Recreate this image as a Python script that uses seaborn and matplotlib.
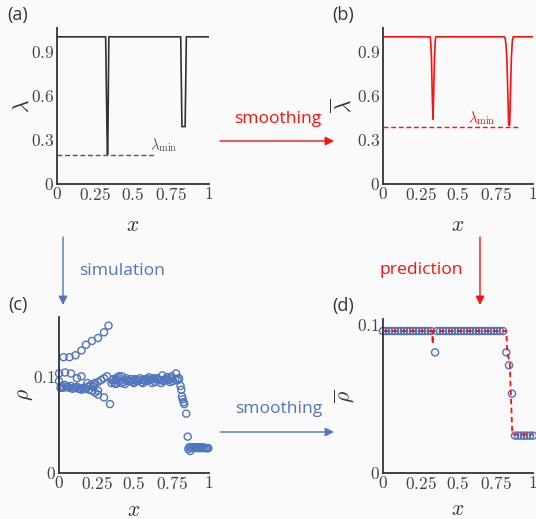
import numpy as np
import pandas as pd
import matplotlib
matplotlib.use("Agg")
import matplotlib.pyplot as plt
from matplotlib.patches import FancyArrowPatch
import seaborn as sns

sns.set_style("white")
plt.rcParams["mathtext.fontset"] = "cm"
plt.rcParams["font.family"] = ["Open Sans", "DejaVu Sans"]

# ---------------- data ----------------
# (a) raw lambda profile
lam_x = [0.0, 0.320, 0.331, 0.334, 0.341, 0.814, 0.822, 0.843, 0.851, 1.0]
lam_y = [1.0, 1.0, 0.20, 0.20, 1.0, 1.0, 0.39, 0.39, 1.0, 1.0]
lam_min_a = 0.20
lam_min_a_span = [0.0, 0.64]

# (b) smoothed lambda profile
lbar_x = [0.0, 0.314, 0.318, 0.323, 0.328, 0.333, 0.338, 0.343, 0.348, 0.352,
          0.808, 0.814, 0.820, 0.826, 0.832, 0.838, 0.844, 0.850, 0.856, 0.862, 0.868, 1.0]
lbar_y = [1.0, 1.0, 0.97, 0.86, 0.62, 0.44, 0.62, 0.86, 0.97, 1.0,
          1.0, 0.99, 0.95, 0.84, 0.62, 0.40, 0.40, 0.62, 0.86, 0.97, 1.0, 1.0]
lam_min_b = 0.385
lam_min_b_span = [0.0, 0.905]

# (c) simulated densities
c_up_x = [0.03, 0.07, 0.11, 0.15, 0.18, 0.22, 0.26, 0.30, 0.33]
c_up_y = [0.121, 0.121, 0.123, 0.128, 0.134, 0.138, 0.141, 0.147, 0.154]
c_dn_x = [0.0, 0.04, 0.08, 0.12, 0.15, 0.19, 0.23, 0.26, 0.30, 0.34]
c_dn_y = [0.104, 0.105, 0.104, 0.099, 0.101, 0.094, 0.090, 0.086, 0.079, 0.072]
c_m1_x = [0.0, 0.02, 0.04, 0.06, 0.08, 0.10, 0.12, 0.14, 0.16, 0.18, 0.20, 0.22, 0.24, 0.26]
c_m1_y = [0.096, 0.091, 0.092, 0.090, 0.091, 0.089, 0.090, 0.088, 0.089, 0.088, 0.087, 0.086, 0.084, 0.082]
c_m2_x = [0.01, 0.03, 0.05, 0.07, 0.09, 0.11, 0.13, 0.15, 0.17, 0.19, 0.21, 0.23]
c_m2_y = [0.089, 0.089, 0.090, 0.089, 0.088, 0.089, 0.088, 0.087, 0.088, 0.090, 0.092, 0.093]
c_r_x = [0.24, 0.26, 0.28, 0.30, 0.32, 0.35, 0.38, 0.40]
c_r_y = [0.094, 0.095, 0.097, 0.099, 0.101, 0.094, 0.098, 0.101]
c_c1_x = [0.36, 0.39, 0.42, 0.45, 0.48, 0.51, 0.54, 0.57, 0.60, 0.63, 0.66, 0.69, 0.72, 0.75, 0.78]
c_c1_y = [0.098, 0.100, 0.101, 0.099, 0.098, 0.097, 0.099, 0.098, 0.100, 0.099, 0.098, 0.102, 0.100, 0.101, 0.104]
c_c2_x = [0.37, 0.40, 0.43, 0.46, 0.49, 0.52, 0.55, 0.58, 0.61, 0.64, 0.67, 0.70, 0.73, 0.76, 0.79]
c_c2_y = [0.094, 0.096, 0.095, 0.096, 0.095, 0.096, 0.095, 0.096, 0.097, 0.095, 0.097, 0.096, 0.097, 0.096, 0.097]
c_c3_x = [0.355, 0.385, 0.415, 0.445, 0.475, 0.505, 0.535, 0.565, 0.595, 0.625, 0.655, 0.685, 0.715, 0.745, 0.775, 0.80]
c_c3_y = [0.097, 0.097, 0.094, 0.097, 0.096, 0.098, 0.097, 0.097, 0.098, 0.098, 0.099, 0.097, 0.098, 0.099, 0.098, 0.099]
c_c4_x = [0.38, 0.44, 0.50, 0.56, 0.62, 0.68, 0.74]
c_c4_y = [0.093, 0.093, 0.094, 0.094, 0.094, 0.094, 0.095]
c_drop_x = [0.80, 0.81, 0.815, 0.82, 0.825, 0.83, 0.835, 0.848, 0.858]
c_drop_y = [0.098, 0.091, 0.087, 0.080, 0.077, 0.074, 0.072, 0.062, 0.038]
c_tail_x = [0.862, 0.87, 0.875, 0.88, 0.89, 0.90, 0.91, 0.92, 0.93, 0.94, 0.95, 0.96, 0.97, 0.98, 0.99, 0.995]
c_tail_y = [0.025, 0.027, 0.023, 0.027, 0.026, 0.027, 0.026, 0.027, 0.026, 0.027, 0.026, 0.027, 0.026, 0.026, 0.026, 0.026]

# (d) smoothed densities (circles) and prediction (dashed)
d_x = [0.00, 0.02, 0.04, 0.06, 0.08, 0.10, 0.12, 0.14, 0.16, 0.18, 0.20, 0.22, 0.24,
       0.26, 0.28, 0.30, 0.32, 0.347, 0.36, 0.38, 0.40, 0.42, 0.44, 0.46, 0.48, 0.50,
       0.52, 0.54, 0.56, 0.58, 0.60, 0.62, 0.64, 0.66, 0.68, 0.70, 0.72, 0.74, 0.76,
       0.78, 0.80, 0.822, 0.84, 0.86, 0.88, 0.90, 0.92, 0.94, 0.96, 0.98, 1.00]
d_y = [0.0957, 0.0957, 0.0957, 0.0957, 0.0957, 0.0957, 0.0957, 0.0957, 0.0957, 0.0957,
       0.0957, 0.0957, 0.0957, 0.0957, 0.0957, 0.0957, 0.0957, 0.0813, 0.0957, 0.0957,
       0.0957, 0.0957, 0.0957, 0.0957, 0.0957, 0.0957, 0.0957, 0.0957, 0.0957, 0.0957,
       0.0957, 0.0957, 0.0957, 0.0957, 0.0957, 0.0957, 0.0957, 0.0957, 0.0957, 0.0957,
       0.0957, 0.0813, 0.0726, 0.0535, 0.0252, 0.0252, 0.0252, 0.0252, 0.0252, 0.0252, 0.0252]
pred_x = [0.0, 0.329, 0.331, 0.333, 0.822, 0.829, 0.845, 0.862, 1.0]
pred_y = [0.0957, 0.0957, 0.087, 0.0957, 0.0957, 0.081, 0.074, 0.026, 0.026]

# ---------------- style ----------------
BG = "#fafafa"
BLUE = "#5075bd"
RED = "#ff0f0f"
DARK = "#333333"
W, H = 536, 519

fig = plt.figure(figsize=(W / 100, H / 100), dpi=100, facecolor=BG)


def px_axes(l, t, r, b):
    return fig.add_axes([l / W, 1 - b / H, (r - l) / W, (b - t) / H])


ax_a = px_axes(57, 28, 209, 184)
ax_b = px_axes(383, 28, 533, 184)
ax_c = px_axes(59, 317, 209, 473)
ax_d = px_axes(383, 319, 533, 473)

xt = [0, 0.25, 0.5, 0.75, 1]
xtl = ["$0$", "$0.25$", "$0.5$", "$0.75$", "$1$"]


def style(ax, yticks, ylabels, ylim, ylab, ylab_x, xlab_y):
    ax.set_facecolor(BG)
    for s in ["top", "right"]:
        ax.spines[s].set_visible(False)
    for s in ["left", "bottom"]:
        ax.spines[s].set_color(DARK)
        ax.spines[s].set_linewidth(1.3)
    ax.set_xlim(0, 1)
    ax.set_ylim(*ylim)
    ax.set_xticks(xt, labels=xtl)
    ax.set_yticks(yticks, labels=ylabels)
    ax.tick_params(direction="in", length=3, width=0.8, colors=DARK,
                   labelsize=12.5, labelcolor="#444444", pad=2)
    ax.set_xlabel("$x$", fontsize=15.5, color=DARK)
    ax.set_ylabel(ylab, fontsize=15.5, color=DARK)
    ax.xaxis.set_label_coords(0.5, xlab_y)
    ax.yaxis.set_label_coords(ylab_x, 0.5)


# (a)
sns.lineplot(x=lam_x, y=lam_y, ax=ax_a, color=DARK, lw=1.2, sort=False, estimator=None)
sns.lineplot(x=lam_min_a_span, y=[lam_min_a, lam_min_a], ax=ax_a, color="#555555",
             lw=1.0, linestyle=(0, (3.5, 2)), sort=False, estimator=None)
ax_a.text(0.61, lam_min_a + 0.035, r"$\lambda_{\min}$", fontsize=10.5, color="#555555")
style(ax_a, [0, 0.3, 0.6, 0.9], ["$0$", "$0.3$", "$0.6$", "$0.9$"], (0, 1.06),
      r"$\lambda$", -0.15, -0.2)

# (b)
sns.lineplot(x=lbar_x, y=lbar_y, ax=ax_b, color=RED, lw=1.2, sort=False, estimator=None)
sns.lineplot(x=lam_min_b_span, y=[lam_min_b, lam_min_b], ax=ax_b, color=RED,
             lw=1.0, linestyle=(0, (3.5, 2)), sort=False, estimator=None)
ax_b.text(0.57, lam_min_b + 0.035, r"$\lambda_{\min}$", fontsize=10.5, color=RED)
style(ax_b, [0, 0.3, 0.6, 0.9], ["$0$", "$0.3$", "$0.6$", "$0.9$"], (0, 1.06),
      r"$\overline{\lambda}$", -0.18, -0.2)

# (c)
cx = c_up_x + c_dn_x + c_m1_x + c_m2_x + c_r_x + c_c1_x + c_c2_x + c_c3_x + c_c4_x + c_drop_x + c_tail_x
cy = c_up_y + c_dn_y + c_m1_y + c_m2_y + c_r_y + c_c1_y + c_c2_y + c_c3_y + c_c4_y + c_drop_y + c_tail_y
df_c = pd.DataFrame({"x": cx, "rho": cy})
sns.scatterplot(data=df_c, x="x", y="rho", ax=ax_c, marker="o", s=26,
                facecolors="none", edgecolors=BLUE, linewidths=1.0, clip_on=False)
style(ax_c, [0, 0.1], ["$0$", "$0.1$"], (0, 0.163), r"$\rho$", -0.16, -0.17)

# (d)
df_d = pd.DataFrame({"x": d_x, "rho_bar": d_y})
sns.scatterplot(data=df_d, x="x", y="rho_bar", ax=ax_d, marker="o", s=26,
                facecolors="none", edgecolors=BLUE, linewidths=1.0, clip_on=False, zorder=2)
sns.lineplot(x=pred_x, y=pred_y, ax=ax_d, color=RED, lw=1.3, linestyle=(0, (3, 2)),
             sort=False, estimator=None, zorder=3)
style(ax_d, [0, 0.1], ["$0$", "$0.1$"], (0, 0.1038), r"$\overline{\rho}$", -0.18, -0.17)

# panel labels
for lab, (x, y) in {"(a)": (18, 15), "(b)": (343, 15), "(c)": (18, 305), "(d)": (343, 306)}.items():
    fig.text(x / W, 1 - y / H, lab, fontsize=13, color=DARK, ha="center", va="center")


# arrows and captions
def arrow(p1, p2, color):
    a = FancyArrowPatch((p1[0] / W, 1 - p1[1] / H), (p2[0] / W, 1 - p2[1] / H),
                        transform=fig.transFigure, arrowstyle="-|>", mutation_scale=13,
                        color=color, lw=1.0, shrinkA=0, shrinkB=0)
    fig.add_artist(a)


arrow((220, 141), (334, 141), RED)
arrow((63, 237), (63, 305), BLUE)
arrow((480, 237), (480, 305), RED)
arrow((220, 432), (334, 432), BLUE)

fig.text(277.5 / W, 1 - 119 / H, "smoothing", color=RED, fontsize=12.6, ha="center", va="center")
fig.text(121.7 / W, 1 - 271 / H, "simulation", color=BLUE, fontsize=12.6, ha="center", va="center")
fig.text(421.3 / W, 1 - 270 / H, "prediction", color=RED, fontsize=12.6, ha="center", va="center")
fig.text(279 / W, 1 - 409 / H, "smoothing", color=BLUE, fontsize=12.6, ha="center", va="center")

fig.savefig("out.png", dpi=100, facecolor=BG)
